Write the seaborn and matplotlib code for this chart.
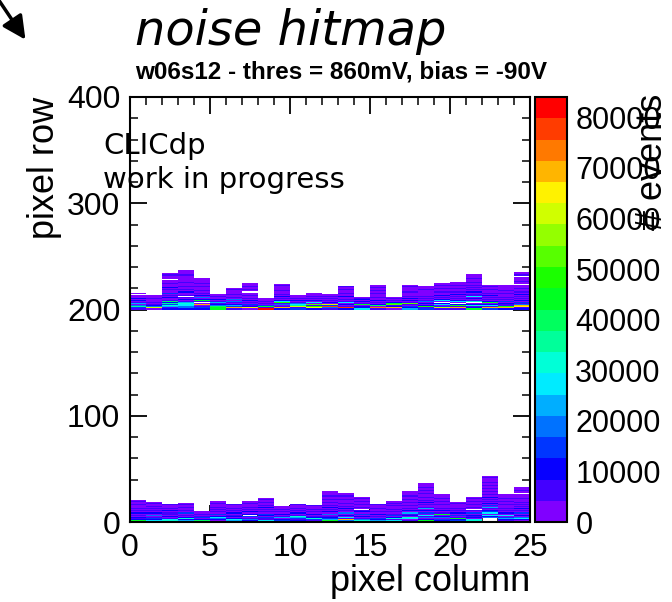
import numpy as np
import pandas as pd
import matplotlib
matplotlib.use("Agg")
import matplotlib.pyplot as plt
from matplotlib.colors import ListedColormap, hsv_to_rgb
from matplotlib.ticker import MultipleLocator, StrMethodFormatter
import seaborn as sns

# Sensor geometry and colour scale
n_cols = 25
n_rows = 400
z_max = 84000
n_levels = 20

# Hit-count levels per pixel column, one character per pixel row going upwards
# ('0'..'j' = colour level 0..19, '.' = no hits). Spaces only group rows by five.
top_band_start = 200
top_band = [
    "13840 51020 2000. 0",
    "0e421 01000 1000",
    "21573 82910 02010 30010 20001 000.0 0010",
    "24466 75102 01.10 02010 01000 10000 00100 00",
    "2310g 0.1a2 04020 10100 01001 00000",
    "aa942 15102 00100",
    "1g352 01404 01001 00010",
    "0f213 01020 10010 0.010 01000",
    "j1a30 10100 0",
    "2g104 1b620 10201 00100 0010",
    "31e86 41020 1000",
    "2fb1c 06020 10100 0",
    "14i3e 02010 10100",
    "2i102 06101 00200 10010 01",
    "6220a 10202 10",
    "1h092 01020 01000 10100 100",
    "0g21c a2010 10",
    "52301 c1020 20100 01000 010",
    "31b20 20410 10100 00010 00",
    "1e306 2.062 01020 01001 00100",
    "1g1a2 .0620 10102 01001 00100 0",
    "a2172 0.710 20611 02010 10100 10001 000",
    "3g162 0a201 01020 10010 010",
    "2ga11 20301 01000 10100 000",
    "21fg4 13020 10102 01001 000.0 01000 0.100",
]

bottom_band_start = 0
bottom_band = [
    "ga212 01020 10100 01001 0",
    "26231 04020 10101 0010",
    "37610 20110 20100 01",
    "a5272 01030 10010 010",
    "h9203 10100",
    "70246 20301 01010 00100",
    "15620 21020 10100 01",
    "72410 3.202 01010 00100",
    "46113 02301 01020 10010 010",
    "83205 10201 01000",
    "12135 71020 10100 01",
    "a1372 10201 01000 1",
    "2a532 10402 01020 10010 01001 0000",
    "24g16 02040 10201 00100 01001 00",
    "67410 20302 1.010 01001 0010",
    "95230 10201 00100 01",
    "36172 03101 01000 10100",
    "21067 02150 20100 10010 01001 0000",
    "3a204 16030 20510 01020 10010 01001 00100 00",
    "12304 20a10 20100 01001 00100 0",
    "a32a1 03020 10100 0010",
    "67602 12030 1.010 01001 0010",
    "0...4 26063 20150 30201 01020 10010 01001 00100 010",
    "01253 06020 10100 01001 00100 0",
    "a0264 02030 10201 01010 00100 0.001 000",
]

x_ticks = [0, 5, 10, 15, 20, 25]
y_ticks = [0, 100, 200, 300, 400]
z_ticks = [0, 10000, 20000, 30000, 40000, 50000, 60000, 70000, 80000]

# Build the hit map (row index = pixel row, column index = pixel column)
hits = np.zeros((n_rows, n_cols))
level_width = z_max / n_levels
for start, band in ((top_band_start, top_band), (bottom_band_start, bottom_band)):
    for col, codes in enumerate(band):
        for k, ch in enumerate(codes.replace(" ", "")):
            if ch != ".":
                hits[start + k, col] = (int(ch, 36) + 0.5) * level_width
hitmap = pd.DataFrame(hits)

# Violet-to-red rainbow palette with 20 contour levels
hues = np.linspace(270, 0, n_levels) / 360.0
palette = ListedColormap(hsv_to_rgb(np.column_stack([hues, np.ones(n_levels), np.ones(n_levels)])))

sns.set_style("white")
plt.rcParams["font.family"] = ["Liberation Sans", "DejaVu Sans"]
plt.rcParams["text.color"] = "black"
plt.rcParams["axes.labelcolor"] = "black"
plt.rcParams["xtick.color"] = "black"
plt.rcParams["ytick.color"] = "black"

fig = plt.figure(figsize=(6.72, 6.02), dpi=100)
W, H = 672, 602
ax = fig.add_axes([130 / W, 80 / H, 400 / W, 425 / H])
cax = fig.add_axes([535 / W, 80 / H, 32 / W, 425 / H])

sns.heatmap(hitmap, mask=hitmap == 0, cmap=palette, vmin=0, vmax=z_max,
            ax=ax, cbar_ax=cax, xticklabels=False, yticklabels=False,
            linewidths=0)

ax.set_xlim(0, n_cols)
ax.set_ylim(0, n_rows)
for sp in ax.spines.values():
    sp.set_visible(True)
    sp.set_linewidth(1.5)
    sp.set_color("black")

ax.set_xticks(x_ticks)
ax.set_yticks(y_ticks)
ax.xaxis.set_minor_locator(MultipleLocator(1))
ax.yaxis.set_minor_locator(MultipleLocator(20))
ax.xaxis.set_major_formatter(StrMethodFormatter("{x:.0f}"))
ax.yaxis.set_major_formatter(StrMethodFormatter("{x:.0f}"))
ax.tick_params(which="both", direction="in", top=True, right=True,
               bottom=True, left=True, colors="black", labelcolor="black")
ax.tick_params(which="major", length=12, width=1.3, labelsize=23)
ax.tick_params(which="minor", length=6, width=1.1)
ax.tick_params(axis="x", which="major", pad=8)
ax.tick_params(axis="y", which="major", pad=7)

ax.set_xlabel("pixel column", fontsize=26, loc="right")
ax.xaxis.set_label_coords(1.0, -0.098)
ax.set_ylabel("pixel row", fontsize=26, loc="top")
ax.yaxis.set_label_coords(-0.17, 1.0)

cbar = ax.collections[0].colorbar
cbar.outline.set_visible(True)
cbar.outline.set_linewidth(1.5)
cbar.outline.set_edgecolor("black")
cbar.set_ticks(z_ticks)
cax.yaxis.set_major_formatter(StrMethodFormatter("{x:.0f}"))
cax.tick_params(direction="in", length=11, width=1.3, labelsize=22, pad=6,
                colors="black", labelcolor="black")

fig.text(135 / W, 1 - 45 / H, "noise hitmap", fontsize=34.5, style="italic",
         family="DejaVu Sans", va="baseline")
fig.text(135 / W, 1 - 79 / H, "w06s12 - thres = 860mV, bias = -90V",
         fontsize=17.5, weight="bold", va="baseline")
fig.text(103 / W, 1 - 154 / H, "CLICdp", fontsize=21, family="DejaVu Sans",
         va="baseline")
fig.text(103 / W, 1 - 188 / H, "work in progress", fontsize=21,
         family="DejaVu Sans", va="baseline")
fig.text(652 / W, 1 - 94 / H, "# events", rotation=90, fontsize=26,
         ha="center", va="top")

ax.annotate("", xy=(27, H - 42), xytext=(-4, H + 4),
            xycoords="figure pixels", textcoords="figure pixels",
            arrowprops=dict(arrowstyle="-|>", color="black", lw=2.5,
                            mutation_scale=35),
            annotation_clip=False)

fig.savefig("out.png", dpi=100, facecolor="white")
